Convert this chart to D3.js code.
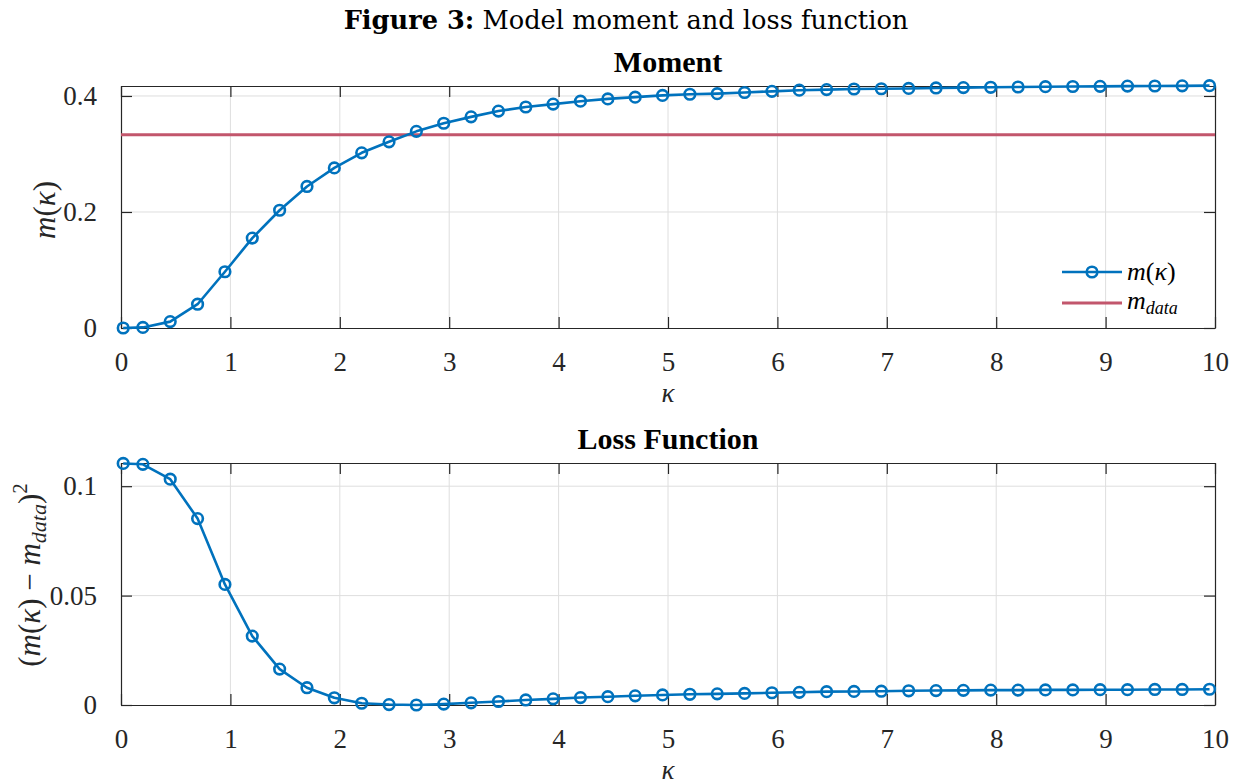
<!DOCTYPE html>
<html lang="en">

<head>
    <meta charset="UTF-8">
    <title>Figure 3</title>
    <script src="https://d3js.org/d3.v7.min.js"></script>
    <style>
        body,
        html {
            margin: 0px;
            background: white;
        }
    </style>
</head>

<body>
    <div id="chart"></div>

    <script>
        // values
        const kappa = [0.02, 0.2, 0.45, 0.7, 0.95, 1.2, 1.45, 1.7, 1.95, 2.2, 2.45, 2.7, 2.95, 3.2, 3.45, 3.7, 3.95,
            4.2, 4.45, 4.7, 4.95, 5.2, 5.45, 5.7, 5.95, 6.2, 6.45, 6.7, 6.95, 7.2, 7.45, 7.7, 7.95, 8.2, 8.45, 8.7,
            8.95, 9.2, 9.45, 9.7, 9.95]
        const moment = [0.000, 0.001, 0.011, 0.041, 0.097, 0.155, 0.203, 0.244, 0.276, 0.302, 0.321, 0.339, 0.353,
            0.364, 0.374, 0.381, 0.386, 0.391, 0.395, 0.398, 0.401, 0.403, 0.404, 0.406, 0.408, 0.410, 0.411, 0.412,
            0.4125, 0.413, 0.4138, 0.4144, 0.415, 0.4155, 0.416, 0.4163, 0.4166, 0.417, 0.4172, 0.4175, 0.4178]
        const loss = [0.1104, 0.1100, 0.1032, 0.0852, 0.0551, 0.0315, 0.0164, 0.0079, 0.0033, 0.0008, 0.0002, 0.0000,
            0.0004, 0.0010, 0.0016, 0.0023, 0.0028, 0.0034, 0.0038, 0.0042, 0.0046, 0.0049, 0.0051, 0.0053, 0.0056,
            0.0058, 0.0061, 0.0062, 0.0063, 0.0065, 0.0066, 0.0067, 0.0068, 0.0068, 0.0069, 0.0069, 0.0070, 0.0070,
            0.0071, 0.0071, 0.0072]
        const mData = 0.3333
        const xTicks = [0, 1, 2, 3, 4, 5, 6, 7, 8, 9, 10]
        const momentTicks = [0, 0.2, 0.4]
        const lossTicks = [0, 0.05, 0.1]

        const width = 1242, height = 784
        const blue = "#0072BD", red = "#C2566C", axisColor = "#262626"

        const svg = d3.select("#chart")
            .append("svg")
            .attr("width", width)
            .attr("height", height)

        // pick a Times-like face that is really installed (compare widths against two fallbacks)
        function hasFont(name) {
            const probe = svg.append("text").style("font-size", "40px").text("Moment 0.05 mmwwiil")
            probe.style("font-family", `"${name}", monospace`)
            const a = probe.node().getComputedTextLength()
            probe.style("font-family", `"${name}", sans-serif`)
            const b = probe.node().getComputedTextLength()
            probe.remove()
            return Math.abs(a - b) < 0.5
        }
        const candidates = ["Liberation Serif", "Times New Roman", "Tinos", "Nimbus Roman", "FreeSerif", "DejaVu Serif"]
        const found = candidates.find(hasFont) || "serif"
        const serif = `"${found}", serif`

        // figure title, sized to match the original width
        const title = svg.append("text")
            .attr("x", 626)
            .attr("y", 29)
            .attr("text-anchor", "middle")
            .style("font-family", "'DejaVu Serif', serif")
            .style("font-size", "24px")
            .attr("fill", "black")
        title.append("tspan").style("font-weight", "bold").text("Figure 3:")
        title.append("tspan").text(" Model moment and loss function")
        const tl = title.node().getComputedTextLength()
        title.style("font-size", (24 * 565 / tl) + "px")

        function drawPanel(opts) {
            const x = d3.scaleLinear().domain([0, 10]).range([121, 1215])
            const y = d3.scaleLinear().domain(opts.yDomain).range([opts.bottom, opts.top])
            const g = svg.append("g")

            // grid
            g.append("g").selectAll("line")
                .data(xTicks.slice(1, -1))
                .join("line")
                .attr("x1", d => x(d)).attr("x2", d => x(d))
                .attr("y1", opts.top).attr("y2", opts.bottom)
                .attr("stroke", "#dedede").attr("stroke-width", 1)
            g.append("g").selectAll("line")
                .data(opts.yTicks.slice(1))
                .join("line")
                .attr("x1", x(0)).attr("x2", x(10))
                .attr("y1", d => y(d)).attr("y2", d => y(d))
                .attr("stroke", "#dedede").attr("stroke-width", 1)

            // axes, ticks inside on all four sides
            const tickLen = 11
            const xAxis = d3.axisBottom(x).tickValues(xTicks).tickSizeInner(-tickLen).tickSizeOuter(0).tickPadding(tickLen + 13).tickFormat(d3.format("d"))
            const yAxis = d3.axisLeft(y).tickValues(opts.yTicks).tickSizeInner(-tickLen).tickSizeOuter(0).tickPadding(tickLen + 13).tickFormat(d => d === 0 ? "0" : String(d))

            g.append("g").attr("transform", `translate(0,${opts.bottom})`).call(xAxis)
            g.append("g").attr("transform", `translate(${x(0)},0)`).call(yAxis)
            g.append("g").attr("transform", `translate(0,${opts.top})`)
                .call(d3.axisTop(x).tickValues(xTicks).tickSizeInner(-tickLen).tickSizeOuter(0).tickFormat(""))
            g.append("g").attr("transform", `translate(${x(10)},0)`)
                .call(d3.axisRight(y).tickValues(opts.yTicks).tickSizeInner(-tickLen).tickSizeOuter(0).tickFormat(""))

            g.selectAll(".domain").attr("stroke", axisColor).attr("stroke-width", 1.2)
            g.selectAll(".tick line").attr("stroke", axisColor).attr("stroke-width", 1.2)
            g.selectAll(".tick text")
                .attr("fill", axisColor)
                .style("font-size", "27px")
                .style("font-family", serif)

            // title
            svg.append("text")
                .attr("x", (x(0) + x(10)) / 2)
                .attr("y", opts.top - 14)
                .attr("text-anchor", "middle")
                .style("font-family", serif)
                .style("font-weight", "bold")
                .style("font-size", "30px")
                .text(opts.title)

            // x label
            svg.append("text")
                .attr("x", (x(0) + x(10)) / 2)
                .attr("y", opts.bottom + 74)
                .attr("text-anchor", "middle")
                .style("font-family", serif)
                .style("font-style", "italic")
                .style("font-size", "27px")
                .attr("fill", axisColor)
                .text("κ")

            if (opts.refLine !== undefined) {
                g.append("line")
                    .attr("x1", x(0)).attr("x2", x(10))
                    .attr("y1", y(opts.refLine)).attr("y2", y(opts.refLine))
                    .attr("stroke", red).attr("stroke-width", 3)
            }

            const pts = kappa.map((k, i) => [k, opts.values[i]])
            const line = d3.line().x(d => x(d[0])).y(d => y(d[1]))
            g.append("path")
                .datum(pts)
                .attr("d", line)
                .attr("fill", "none")
                .attr("stroke", blue)
                .attr("stroke-width", 2.6)
                .attr("stroke-linejoin", "round")
            g.selectAll(".marker")
                .data(pts)
                .join("circle")
                .attr("class", "marker")
                .attr("cx", d => x(d[0]))
                .attr("cy", d => y(d[1]))
                .attr("r", 5.3)
                .attr("fill", "none")
                .attr("stroke", blue)
                .attr("stroke-width", 2.6)

            return { x, y, g }
        }

        // top panel
        drawPanel({
            top: 86, bottom: 328, yDomain: [0, 0.4172], yTicks: momentTicks,
            values: moment, title: "Moment", refLine: mData
        })

        const yl1 = svg.append("text")
            .attr("transform", "translate(55,210) rotate(-90)")
            .attr("text-anchor", "middle")
            .style("font-family", serif)
            .style("font-size", "31px")
            .attr("fill", axisColor)
        yl1.append("tspan").style("font-style", "italic").text("m")
        yl1.append("tspan").text("(")
        yl1.append("tspan").style("font-style", "italic").text("κ")
        yl1.append("tspan").text(")")

        // legend
        const legend = svg.append("g").attr("transform", "translate(1062,272)")
        legend.append("line").attr("x1", 0).attr("x2", 60).attr("y1", 0).attr("y2", 0)
            .attr("stroke", blue).attr("stroke-width", 2.6)
        legend.append("circle").attr("cx", 30).attr("cy", 0).attr("r", 5.3)
            .attr("fill", "none").attr("stroke", blue).attr("stroke-width", 2.6)
        legend.append("line").attr("x1", 0).attr("x2", 60).attr("y1", 31).attr("y2", 31)
            .attr("stroke", red).attr("stroke-width", 3)
        const lt1 = legend.append("text").attr("x", 65).attr("y", 8)
            .style("font-family", serif).style("font-size", "26px").attr("fill", "black")
        lt1.append("tspan").style("font-style", "italic").text("m")
        lt1.append("tspan").text("(")
        lt1.append("tspan").style("font-style", "italic").text("κ")
        lt1.append("tspan").text(")")
        const lt2 = legend.append("text").attr("x", 65).attr("y", 37)
            .style("font-family", serif).style("font-size", "26px").attr("fill", "black")
        lt2.append("tspan").style("font-style", "italic").text("m")
        lt2.append("tspan").style("font-style", "italic").style("font-size", "18px").attr("dy", 5).text("data")

        // bottom panel
        drawPanel({
            top: 463, bottom: 705, yDomain: [0, 0.1106], yTicks: lossTicks,
            values: loss, title: "Loss Function"
        })

        const yl2 = svg.append("text")
            .attr("transform", "translate(40,575) rotate(-90)")
            .attr("text-anchor", "middle")
            .style("font-family", serif)
            .style("font-size", "31px")
            .attr("fill", axisColor)
        yl2.append("tspan").text("(")
        yl2.append("tspan").style("font-style", "italic").text("m")
        yl2.append("tspan").text("(")
        yl2.append("tspan").style("font-style", "italic").text("κ")
        yl2.append("tspan").text(")  −  ")
        yl2.append("tspan").style("font-style", "italic").text("m")
        yl2.append("tspan").style("font-style", "italic").style("font-size", "22px").attr("dy", 6).text("data")
        yl2.append("tspan").attr("dy", -6).text(")")
        yl2.append("tspan").style("font-size", "21px").attr("dy", -13).text("2")
    </script>
</body>

</html>
